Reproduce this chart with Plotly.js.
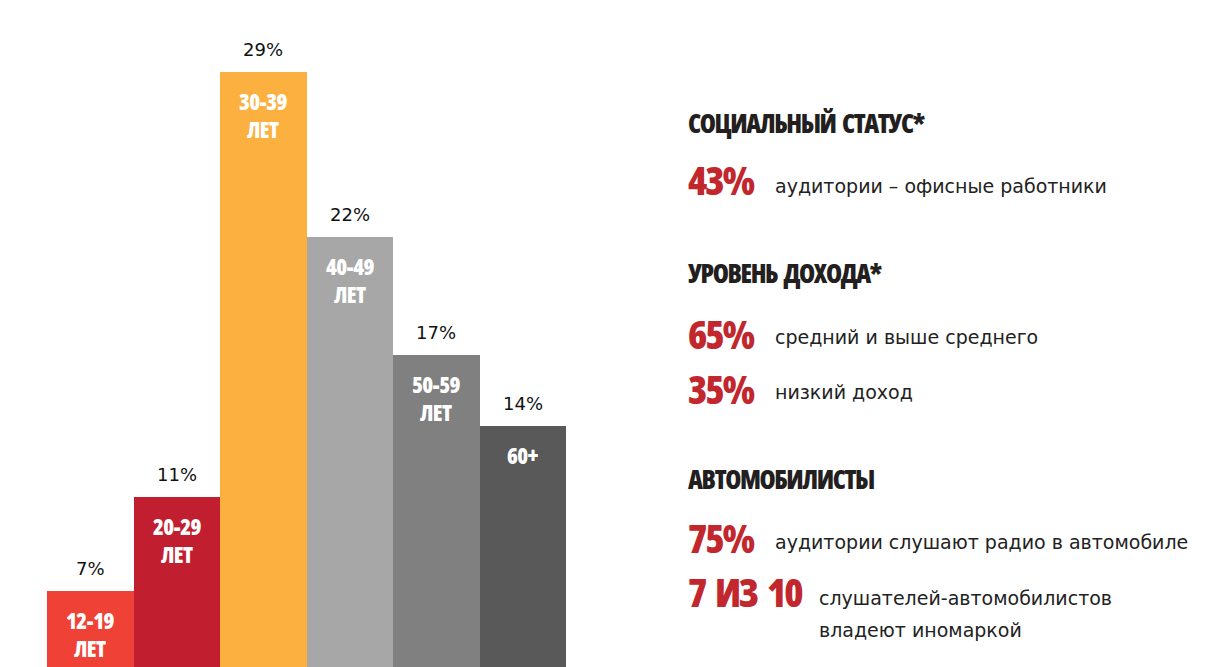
<!DOCTYPE html>
<html>
<head>
<meta charset="utf-8">
<script src="https://cdn.plot.ly/plotly-3.0.1.min.js"></script>
<style>html,body{margin:0;padding:0;background:#fff;}#chart{width:1220px;height:667px;}</style>
</head>
<body>
<div id="chart"></div>
<script>
// ---- data ----
const ageGroups = ['12-19', '20-29', '30-39', '40-49', '50-59', '60+'];
const ageLabels = [['12-19', 'ЛЕТ'], ['20-29', 'ЛЕТ'], ['30-39', 'ЛЕТ'], ['40-49', 'ЛЕТ'], ['50-59', 'ЛЕТ'], ['60+']];
const sharePct = [7, 11, 29, 22, 17, 14];
const barColors = ['#EF4136', '#C11F30', '#FBB040', '#A7A7A7', '#808080', '#595959'];

const headings = ['СОЦИАЛЬНЫЙ СТАТУС*', 'УРОВЕНЬ ДОХОДА*', 'АВТОМОБИЛИСТЫ'];
const statValues = ['43%', '65%', '35%', '75%', '7 ИЗ 10'];
const statTexts = [['аудитории – офисные работники'], ['средний и выше среднего'], ['низкий доход'],
                   ['аудитории слушают радио в автомобиле'], ['слушателей-автомобилистов', 'владеют иномаркой']];

// ---- layout helpers ----
const W = 1220, H = 667;
const px = x => x / W;
const py = y => 1 - y / H;
const condFont = 'Open Sans, Roboto Condensed, sans-serif';
const bodyFont = 'DejaVu Sans, Noto Sans, sans-serif';
const cond = (t, ls) => '<span style="font-stretch:75%;font-weight:800;letter-spacing:' + ls + 'px">' +
  t.replace(/ /g, '\u00A0\u00A0') + '</span>';

const trace = {
  type: 'bar',
  x: ageGroups,
  y: sharePct,
  marker: {color: barColors, line: {width: 0}},
  hoverinfo: 'skip'
};

const ann = [];
ageGroups.forEach((g, i) => {
  ann.push({x: g, y: sharePct[i], xref: 'x', yref: 'y', text: sharePct[i] + '%',
    showarrow: false, yanchor: 'bottom', yshift: 10,
    font: {family: bodyFont, size: 18, color: '#111'}});
  ageLabels[i].forEach((line, k) => {
    ann.push({x: g, y: sharePct[i], xref: 'x', yref: 'y', text: cond(line, -0.6),
      showarrow: false, yanchor: 'middle', yshift: -29 - 28 * k,
      font: {family: condFont, size: 22, color: '#fff'}});
  });
});

const headY = [123, 273, 479];
headings.forEach((t, i) => {
  ann.push({x: px(686), y: py(headY[i]), xref: 'paper', yref: 'paper', text: cond(t, -1.4),
    showarrow: false, xanchor: 'left', yanchor: 'middle',
    font: {family: condFont, size: 26, color: '#231F20'}});
});

const statY = [180, 333, 388, 537, 591];
const textY = [186, 337, 392, 542, 598];
const textX = [773, 773, 773, 773, 817];
statValues.forEach((t, i) => {
  ann.push({x: px(686), y: py(statY[i]), xref: 'paper', yref: 'paper', text: cond(t, -2),
    showarrow: false, xanchor: 'left', yanchor: 'middle',
    font: {family: condFont, size: 39, color: '#C1272D'}});
  statTexts[i].forEach((line, k) => {
    ann.push({x: px(textX[i]), y: py(textY[i] + 32 * k), xref: 'paper', yref: 'paper', text: line,
      showarrow: false, xanchor: 'left', yanchor: 'middle', align: 'left',
      font: {family: bodyFont, size: 19, color: '#222'}});
  });
});

const layout = {
  width: W, height: H,
  margin: {l: 0, r: 0, t: 0, b: 0, pad: 0},
  paper_bgcolor: '#fff', plot_bgcolor: '#fff',
  showlegend: false,
  bargap: 0,
  xaxis: {domain: [px(47), px(566)], type: 'category', visible: false, fixedrange: true},
  yaxis: {range: [3.776, 32.07], visible: false, fixedrange: true},
  annotations: ann
};

Plotly.newPlot('chart', [trace], layout, {displayModeBar: false, staticPlot: true});
</script>
</body>
</html>
